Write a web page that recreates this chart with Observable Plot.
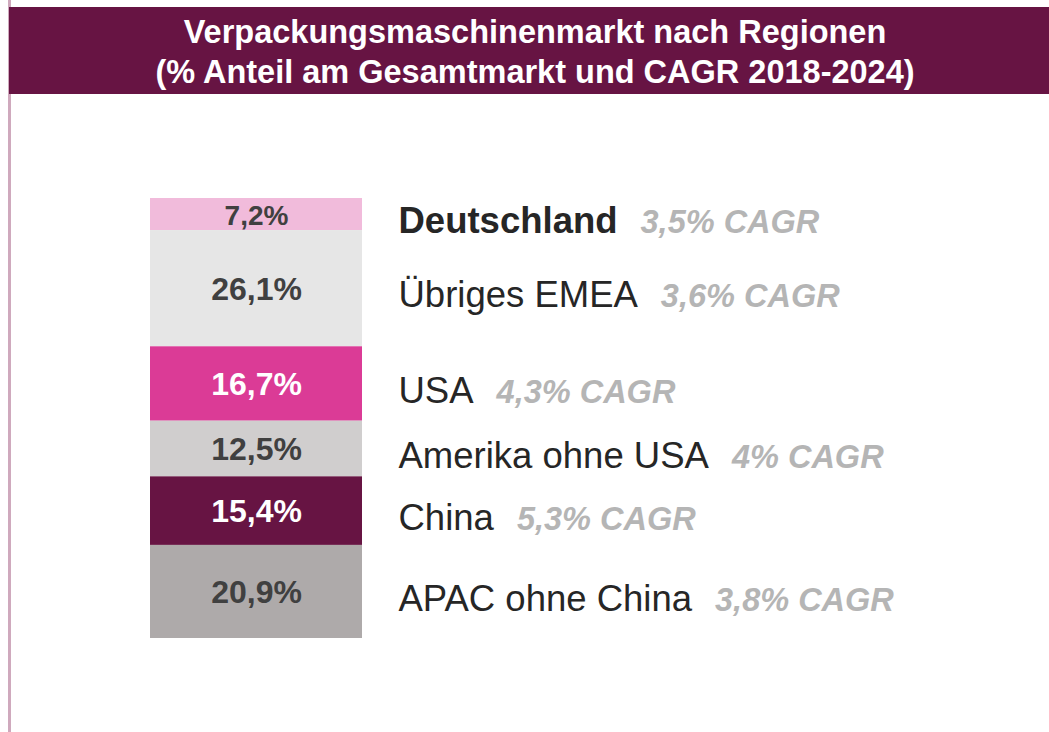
<!DOCTYPE html>
<html>
<head>
<meta charset="utf-8">
<script src="https://cdn.jsdelivr.net/npm/d3@7"></script>
<script src="https://cdn.jsdelivr.net/npm/@observablehq/plot@0.6"></script>
<style>
  html, body { margin: 0; padding: 0; background: #ffffff; }
  #wrap { position: relative; width: 1049px; height: 732px; overflow: hidden; font-family: "Liberation Sans", Arial, sans-serif; }
  #rule { position: absolute; left: 8px; top: 0; width: 3px; height: 732px; background: #CFA9BD; }
  #title { position: absolute; left: 9px; top: 7px; width: 1040px; height: 87px; box-sizing: border-box; padding: 5px 0 0 12px;
           background: #671443; color: #ffffff; font-weight: bold; font-size: 32.5px; line-height: 40px; text-align: center; white-space: nowrap; }
  #chart { position: absolute; left: 0; top: 94px; }
</style>
</head>
<body>
<div id="wrap">
  <div id="rule"></div>
  <div id="title">Verpackungsmaschinenmarkt nach Regionen<br>(% Anteil am Gesamtmarkt und CAGR 2018-2024)</div>
  <div id="chart"></div>
</div>
<script>
// ---- data ----
const regions = ["Deutschland", "Übriges EMEA", "USA", "Amerika ohne USA", "China", "APAC ohne China"];
const shares  = [7.2, 26.1, 16.7, 12.5, 15.4, 20.9];   // % Anteil am Gesamtmarkt
const cagr    = [3.5, 3.6, 4.3, 4.0, 5.3, 3.8];         // CAGR 2018-2024 in %
const highlight = "Deutschland";
const palette = ["#F1BBDB", "#E6E6E6", "#DB3B96", "#D0CECE", "#671443", "#AEAAAA"];

const de = d3.formatLocale({decimal: ",", thousands: ".", grouping: [3], currency: ["", " €"]});
const fmtShare = de.format(".1f");
const fmtCagr = de.format(".1~f");

const rows = regions.map((r, i) => ({region: r, value: shares[i], cagr: cagr[i], col: "Anteil"}));
const colorOf = new Map(regions.map((r, i) => [r, palette[i]]));
const cagrOf = new Map(rows.map(d => [d.region, d.cagr]));
const total = d3.sum(shares);

const stackOpts = {x: "col", y: "value", order: null};

const plot = Plot.plot({
  width: 1049,
  height: 638,
  marginLeft: 150,
  marginRight: 687,
  marginTop: 104,
  marginBottom: 94,
  style: {fontFamily: "'Liberation Sans', Arial, sans-serif", background: "transparent", overflow: "visible"},
  x: {domain: ["Anteil"], padding: 0, axis: null},
  y: {domain: [0, total], reverse: true, axis: null},
  color: {domain: regions, range: palette},
  marks: [
    Plot.barY(rows, Plot.stackY({...stackOpts, fill: "region", inset: 0})),
    Plot.text(rows, Plot.stackY({
      ...stackOpts,
      text: d => fmtShare(d.value) + "%",
      fontSize: d => d.value < 10 ? 28 : 32,
      fontWeight: "bold",
      lineAnchor: "middle",
      dy: 1,
      fill: d => d3.lab(colorOf.get(d.region)).l < 60 ? "#ffffff" : "#404040"
    })),
    Plot.text(rows, Plot.stackY({
      ...stackOpts,
      text: "region",
      textAnchor: "start",
      lineAnchor: "middle",
      dx: 142,
      dy: 7,
      fontSize: 36.5,
      fill: "#262626"
    }))
  ]
});

// style region names and append the grey CAGR annotation
d3.select(plot).selectAll("text").each(function () {
  const name = this.textContent;
  if (!cagrOf.has(name)) return;
  if (name === highlight) this.setAttribute("font-weight", "bold");
  d3.select(this).append("tspan")
    .attr("dx", 23)
    .attr("font-size", 32.5)
    .attr("font-weight", "bold")
    .attr("font-style", "italic")
    .attr("fill", "#B5B5B5")
    .text(fmtCagr(cagrOf.get(name)) + "% CAGR");
});

document.getElementById("chart").appendChild(plot);
</script>
</body>
</html>
